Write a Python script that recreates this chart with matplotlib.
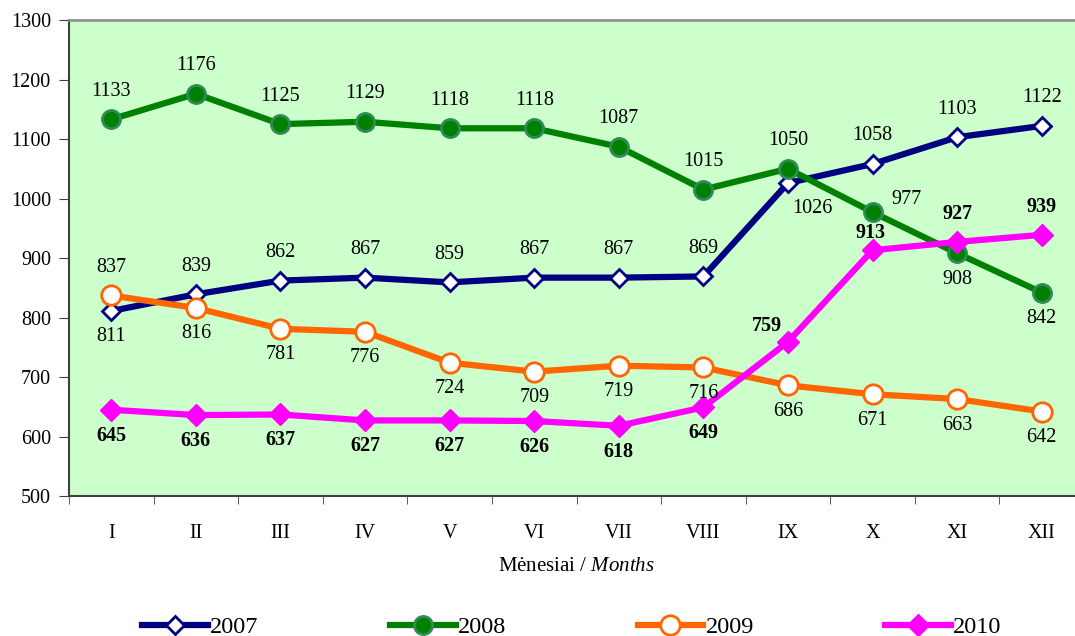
import numpy as np
import matplotlib
matplotlib.use("Agg")
import matplotlib.pyplot as plt

plt.rcParams['font.family'] = ['Liberation Serif', 'DejaVu Serif']
plt.rcParams['mathtext.fontset'] = 'custom'
plt.rcParams['mathtext.rm'] = 'Liberation Serif'
plt.rcParams['mathtext.it'] = 'Liberation Serif:italic'

# data
months = ['I', 'II', 'III', 'IV', 'V', 'VI', 'VII', 'VIII', 'IX', 'X', 'XI', 'XII']
years = ['2007', '2008', '2009', '2010']
v2007 = [811, 839, 862, 867, 859, 867, 867, 869, 1026, 1058, 1103, 1122]
v2008 = [1133, 1176, 1125, 1129, 1118, 1118, 1087, 1015, 1050, 977, 908, 842]
v2009 = [837, 816, 781, 776, 724, 709, 719, 716, 686, 671, 663, 642]
v2010 = [645, 636, 637, 627, 627, 626, 618, 649, 759, 913, 927, 939]
yticks = [500, 600, 700, 800, 900, 1000, 1100, 1200, 1300]

# label placement per point (a=above, b=below, ar/br/al = shifted)
pos2007 = ['b', 'a', 'a', 'a', 'a', 'a', 'a', 'a', 'br', 'a', 'a', 'a']
pos2008 = ['a', 'a', 'a', 'a', 'a', 'a', 'a', 'a', 'a', 'ar', 'b', 'b']
pos2009 = ['a'] + ['b'] * 11
pos2010 = ['b'] * 8 + ['al', 'a2', 'a', 'a']

offsets = {'a': (0, 28), 'b': (0, -26), 'br': (24, -25), 'ar': (34, 13),
           'al': (-21, 16), 'a2': (-2, 17)}

styles = [
    dict(color='#000080', marker='D', ms=9, mfc='white', mec='#000080', mew=2),
    dict(color='#008000', marker='o', ms=13, mfc='#008000', mec='#2E8B57', mew=2),
    dict(color='#FF6600', marker='o', ms=14, mfc='white', mec='#FF6600', mew=2),
    dict(color='#FF00FF', marker='D', ms=11, mfc='#FF00FF', mec='#FF00FF', mew=1),
]

fig = plt.figure(figsize=(10.75, 6.36), dpi=100)
ax = fig.add_axes([69 / 1075, 1 - 496 / 636, 1015 / 1075, 476 / 636])
ax.set_facecolor('#CCFFCC')

x = np.arange(len(months))
series = [v2007, v2008, v2009, v2010]
positions = [pos2007, pos2008, pos2009, pos2010]
for i, (vals, pos) in enumerate(zip(series, positions)):
    ax.plot(x, vals, lw=4.5, label=years[i], zorder=4 if i == 3 else 3, **styles[i])
    for xi, v, p in zip(x, vals, pos):
        dx, dy = offsets[p]
        ax.annotate(str(v), (xi, v), xytext=(dx, dy), textcoords='offset pixels',
                    ha='center', va='center', fontsize=14.5,
                    fontweight='bold' if i == 3 else 'normal', zorder=6)

ax.set_xlim(-0.5, 11.5)
ax.set_ylim(500, 1300)
ax.set_yticks(yticks)
ax.set_xticks(x)
ax.set_xticklabels(months)
ax.set_xticks(np.arange(-0.5, 12, 1), minor=True)
ax.tick_params(axis='x', which='major', length=0, pad=20, labelsize=14.5)
ax.tick_params(axis='x', which='minor', length=6, direction='out', color='#404040')
ax.tick_params(axis='y', length=7, direction='out', color='#404040', labelsize=14.5, pad=6)

ax.spines['left'].set_color('#404040')
ax.spines['bottom'].set_color('#404040')
ax.spines['left'].set_linewidth(1.5)
ax.spines['bottom'].set_linewidth(1.5)
ax.spines['top'].set_color('#909090')
ax.spines['top'].set_linewidth(2)
ax.spines['right'].set_visible(False)

ax.set_xlabel(r'Mėnesiai / $\it{Months}$', fontsize=15, labelpad=10)

lines, labels = ax.get_legend_handles_labels()
fig.legend(lines, labels, loc='center', bbox_to_anchor=(0.532, 0.014), ncol=4,
           frameon=False, fontsize=17.5, handlelength=2.7, columnspacing=5.4,
           handletextpad=0.1)

plt.savefig('out.png', dpi=100)
